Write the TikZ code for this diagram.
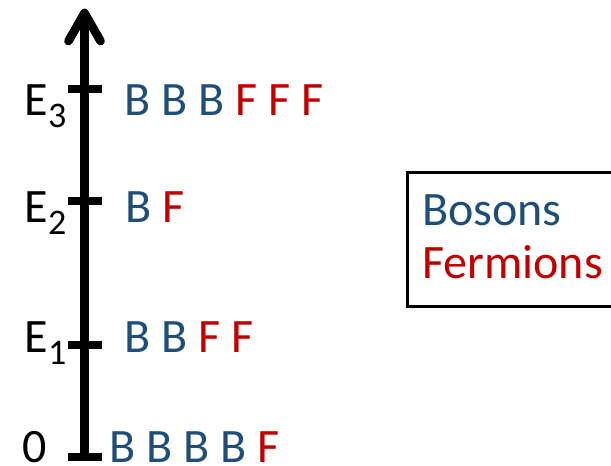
\documentclass[tikz,border=0pt]{standalone}
\usepackage{fontspec}
\setmainfont{Carlito}
\definecolor{bosblue}{HTML}{1F4E79}
\definecolor{ferred}{HTML}{C00000}
\begin{document}
\begin{tikzpicture}[x=0.75pt,y=-0.75pt,
  lbl/.style={inner sep=0pt,anchor=base west,font=\fontsize{36}{43}\selectfont},
  tickmark/.style={line width=6pt},
  axisline/.style={line width=6.5pt},
  legendbox/.style={draw,line width=2.25pt,inner sep=0pt,anchor=north west,minimum width=154.5pt,minimum height=101pt}]
\useasboundingbox (0,0) rectangle (611,465);
\newcommand{\sbs}[1]{\raisebox{-9pt}{\fontsize{27}{27}\selectfont #1}}
% axis
\coordinate (axbot) at (84.5,461);
\coordinate (axtop) at (84.5,13);
\coordinate (wingL) at (68.5,41);
\coordinate (wingR) at (100.5,41);
\draw[axisline] (axbot) -- (axtop);
\draw[axisline,line cap=round,line join=round] (wingL) -- (axtop) -- (wingR);
% ticks
\foreach \nm/\yy in {t3/89,t2/201,t1/345,t0/457}{
  \coordinate (\nm L) at (68,\yy);
  \coordinate (\nm R) at (102,\yy);
  \draw[tickmark] (\nm L) -- (\nm R);
}
% labels
\node[lbl] (e3) at (24.5,115) {E\sbs{3}};
\node[lbl] (e2) at (24.5,222) {E\sbs{2}};
\node[lbl] (e1) at (24.5,352) {E\sbs{1}};
\node[lbl] (e0) at (22.5,462) {0};
% rows
\node[lbl] (r3) at (124.5,115) {\color{bosblue}B B B \color{ferred}F F F};
\node[lbl] (r2) at (125.5,222) {\color{bosblue}B \color{ferred}F};
\node[lbl] (r1) at (124.5,352) {\color{bosblue}B B \color{ferred}F F};
\node[lbl] (r0) at (109.5,462) {\color{bosblue}B B B B \color{ferred}F};
% legend
\node[legendbox] (legend) at (405.5,170.5) {};
\node[lbl,text=bosblue] (bos) at (422,225) {Bosons};
\node[lbl,text=ferred] (fer) at (422,278) {Fermions};
\end{tikzpicture}
\end{document}
